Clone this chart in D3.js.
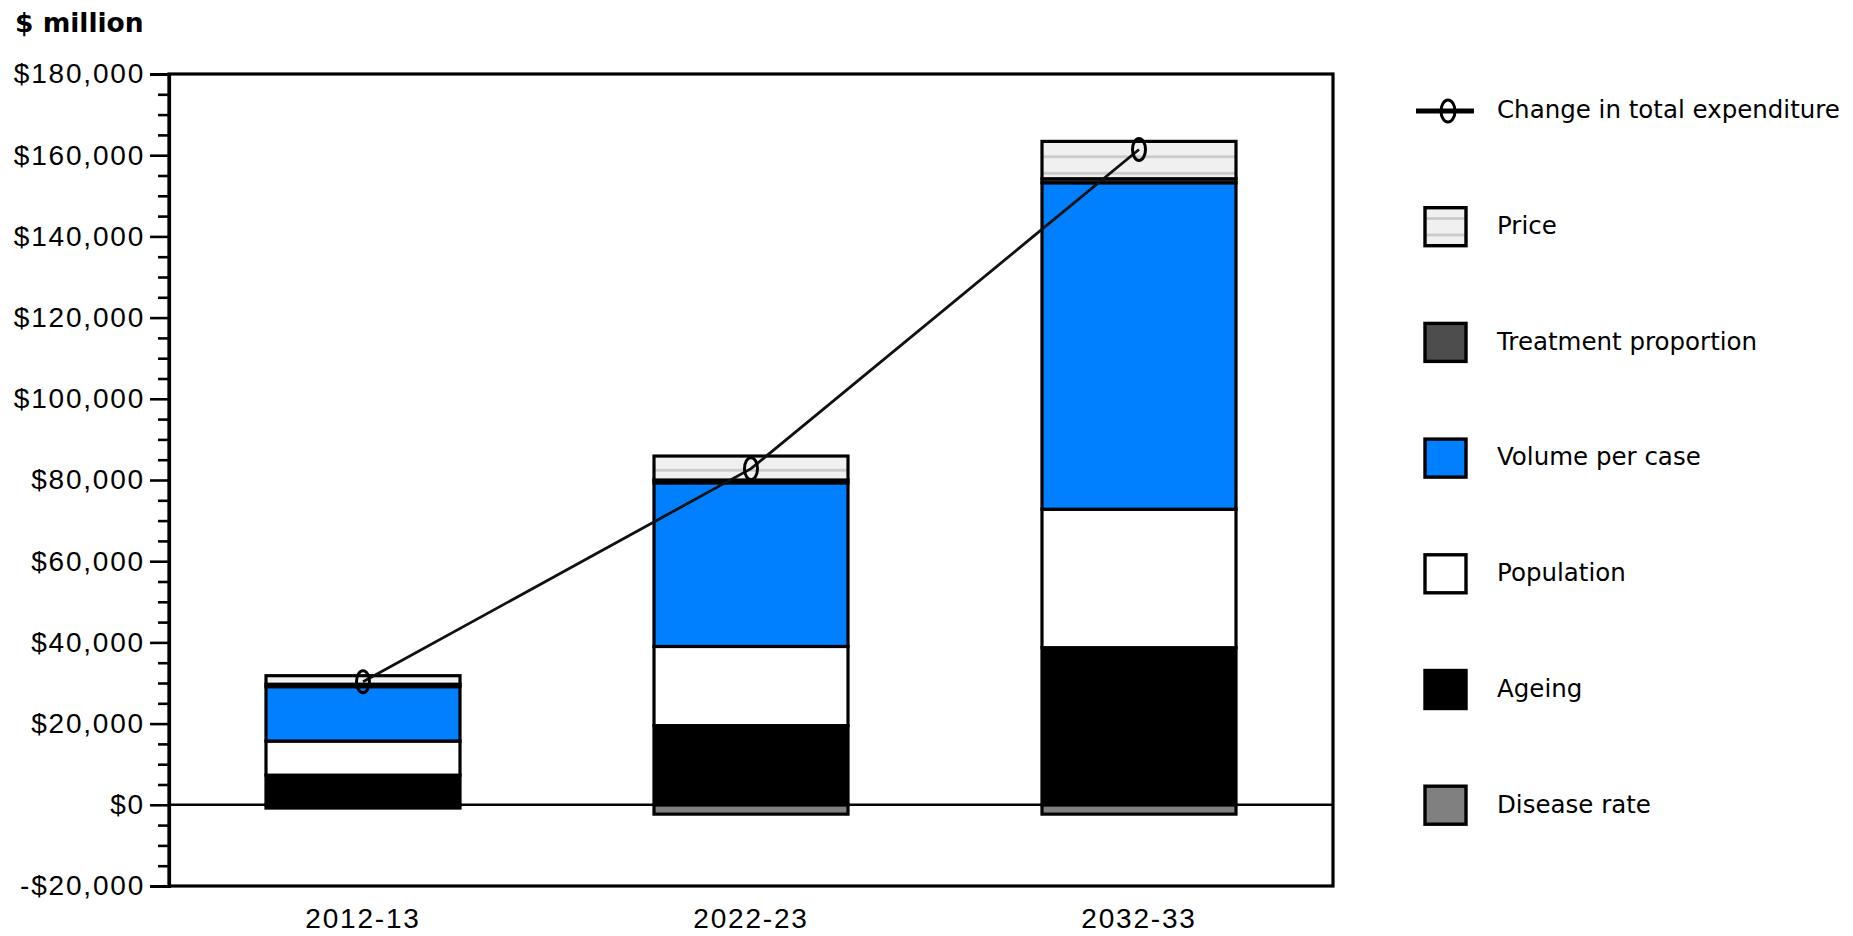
<!DOCTYPE html>
<html lang="en">
<head>
    <meta charset="UTF-8">
    <title>Expenditure growth by factor</title>
    <script src="https://d3js.org/d3.v7.min.js"></script>
    <style>
        body {
            margin: 0;
            padding: 0;
            background: #fff;
        }
        svg {
            display: block;
            font-family: "DejaVu Sans", Verdana, sans-serif;
        }
        .axis path,
        .axis line {
            stroke: #000;
        }
        .axis text {
            fill: #000;
            font-size: 28px;
            letter-spacing: 1.8px;
        }
        .legend text {
            font-size: 24.5px;
            fill: #000;
        }
    </style>
</head>
<body>
    <svg id="chart"></svg>

    <script>
        // data
        const years = ["2012-13", "2022-23", "2032-33"];
        const diseaseRate = [-800, -2300, -2300];
        const ageing = [7300, 19500, 38700];
        const population = [8400, 19500, 34100];
        const volumePerCase = [13400, 40300, 80400];
        const treatmentProportion = [600, 700, 1000];
        const price = [2100, 5900, 9200];
        const totalChange = [30300, 82800, 161400];
        const yTicks = [-20000, 0, 20000, 40000, 60000, 80000, 100000, 120000, 140000, 160000, 180000];

        const seriesNames = ["Disease rate", "Ageing", "Population", "Volume per case", "Treatment proportion", "Price"];
        const seriesValues = [diseaseRate, ageing, population, volumePerCase, treatmentProportion, price];
        const fills = {
            "Disease rate": "#808080",
            "Ageing": "#000000",
            "Population": "#ffffff",
            "Volume per case": "#0080ff",
            "Treatment proportion": "#4d4d4d",
            "Price": "url(#priceHatch)"
        };

        const W = 1853, H = 936;
        const plotL = 169, plotR = 1333, plotT = 74, plotB = 886;

        const svg = d3.select("#chart")
            .attr("width", W)
            .attr("height", H);

        // light horizontal stripes for the price segment
        const pat = svg.append("defs").append("pattern")
            .attr("id", "priceHatch")
            .attr("patternUnits", "userSpaceOnUse")
            .attr("width", 20)
            .attr("height", 16.5);
        pat.append("rect").attr("width", 20).attr("height", 16.5).attr("fill", "#f0f0f0");
        pat.append("rect").attr("y", 7).attr("width", 20).attr("height", 2.6).attr("fill", "#c8c8c8");

        const table = years.map((yr, i) => {
            const row = { year: yr };
            seriesNames.forEach((s, k) => row[s] = seriesValues[k][i]);
            return row;
        });

        const x = d3.scaleBand().domain(years).range([plotL, plotR])
            .paddingInner(0.5).paddingOuter(0.25);
        const y = d3.scaleLinear().domain([-20000, 180000]).range([plotB, plotT]);

        // frame
        svg.append("rect")
            .attr("x", plotL).attr("y", plotT)
            .attr("width", plotR - plotL).attr("height", plotB - plotT)
            .attr("fill", "none").attr("stroke", "#000").attr("stroke-width", 3.2);

        // zero line
        svg.append("line")
            .attr("x1", plotL).attr("x2", plotR)
            .attr("y1", y(0)).attr("y2", y(0))
            .attr("stroke", "#000").attr("stroke-width", 2.6);

        // stacked bars
        const stack = d3.stack().keys(seriesNames).offset(d3.stackOffsetDiverging);
        const layers = stack(table);

        svg.append("g").selectAll("g")
            .data(layers)
            .join("g")
            .attr("fill", d => fills[d.key])
            .selectAll("rect")
            .data(d => d)
            .join("rect")
            .attr("x", d => x(d.data.year))
            .attr("width", x.bandwidth())
            .attr("y", d => y(Math.max(d[0], d[1])))
            .attr("height", d => Math.abs(y(d[0]) - y(d[1])))
            .attr("stroke", "#000")
            .attr("stroke-width", 3.2);

        // y axis, major and minor ticks
        const minorTicks = d3.range(-20000, 180001, 5000).filter(v => v % 20000 !== 0);
        svg.append("g")
            .attr("class", "axis")
            .attr("transform", `translate(${plotL},0)`)
            .call(d3.axisLeft(y).tickValues(minorTicks).tickSize(11).tickFormat(""))
            .call(g => g.select(".domain").remove())
            .selectAll("line").attr("stroke-width", 2.6);

        const yAxis = svg.append("g")
            .attr("class", "axis")
            .attr("transform", `translate(${plotL},0)`)
            .call(d3.axisLeft(y).tickValues(yTicks).tickSize(19).tickPadding(5)
                .tickFormat(d => (d < 0 ? "-" : "") + "$" + d3.format(",")(Math.abs(d))));
        yAxis.select(".domain").attr("stroke-width", 3.2);
        yAxis.selectAll("line").attr("stroke-width", 2.6);

        // x axis labels
        svg.append("g")
            .attr("class", "axis")
            .attr("transform", `translate(0,${plotB})`)
            .call(d3.axisBottom(x).tickSize(0).tickPadding(22))
            .call(g => g.select(".domain").remove());

        // unit label
        svg.append("text")
            .attr("x", 15).attr("y", 32)
            .attr("font-size", 26.5)
            .attr("font-weight", "bold")
            .text("$ million");

        // change in total expenditure line
        const cx = d => x(d) + x.bandwidth() / 2;
        const line = d3.line().x((d, i) => cx(years[i])).y(d => y(d));
        svg.append("path")
            .datum(totalChange)
            .attr("d", line)
            .attr("fill", "none")
            .attr("stroke", "#111")
            .attr("stroke-width", 2.8);

        svg.append("g").selectAll("ellipse")
            .data(totalChange)
            .join("ellipse")
            .attr("cx", (d, i) => cx(years[i]))
            .attr("cy", d => y(d))
            .attr("rx", 6.5).attr("ry", 11)
            .attr("fill", "none")
            .attr("stroke", "#000")
            .attr("stroke-width", 3);

        // legend
        const legendItems = ["Change in total expenditure", "Price", "Treatment proportion",
            "Volume per case", "Population", "Ageing", "Disease rate"];
        const legend = svg.append("g").attr("class", "legend");
        const ly = i => 111 + i * 115.7;

        legendItems.forEach((name, i) => {
            const g = legend.append("g").attr("transform", `translate(0,${ly(i)})`);
            if (i === 0) {
                g.append("line")
                    .attr("x1", 1416).attr("x2", 1474)
                    .attr("stroke", "#000").attr("stroke-width", 5);
                g.append("ellipse")
                    .attr("cx", 1448).attr("rx", 7).attr("ry", 11)
                    .attr("fill", "none").attr("stroke", "#000").attr("stroke-width", 3);
            } else {
                g.append("rect")
                    .attr("x", 1425).attr("y", -19)
                    .attr("width", 41).attr("height", 38)
                    .attr("fill", fills[name])
                    .attr("stroke", "#000").attr("stroke-width", 3.4);
            }
            g.append("text")
                .attr("x", 1497).attr("dy", "0.3em")
                .text(name);
        });
    </script>
</body>
</html>
